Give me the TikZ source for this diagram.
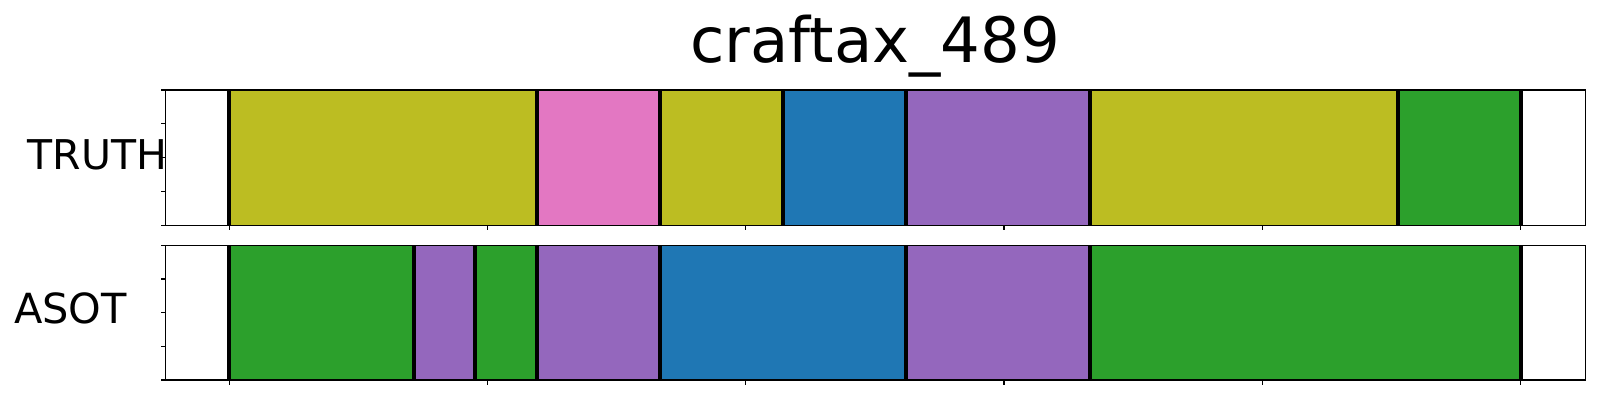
\documentclass[tikz,border=0pt]{standalone}
\usepackage{fontspec}
\setmainfont{DejaVu Sans}
\definecolor{tabolive}{HTML}{BCBD22}
\definecolor{tabpink}{HTML}{E377C2}
\definecolor{tabblue}{HTML}{1F77B4}
\definecolor{tabpurple}{HTML}{9467BD}
\definecolor{tabgreen}{HTML}{2CA02C}
\tikzset{
  frame/.style={line width=1.1},
  cut/.style={line width=4},
  tick/.style={line width=1.1}
}
\begin{document}
\begin{tikzpicture}[x=1pt,y=-1pt]
    \useasboundingbox (0,0) rectangle (1600,400);
    % TRUTH row
    \foreach \a/\b/\c in {229.3/536.7/tabolive, 536.7/659.7/tabpink,
      659.7/782.7/tabolive, 782.7/905.7/tabblue, 905.7/1090.2/tabpurple,
      1090.2/1397.6/tabolive, 1397.6/1520.5/tabgreen}
      \fill[\c] (\a,90) rectangle (\b,225.3);
    \foreach \a in {229.3,536.7,659.7,782.7,905.7,1090.2,1397.6,1520.5}
      \draw[cut] (\a,90) -- (\a,225.3);
    \draw[frame] (165.7,90) rectangle (1585.7,225.3);
    
    % ASOT row
    \foreach \a/\b/\c in {229.3/413.8/tabgreen, 413.8/475.3/tabpurple,
      475.3/536.7/tabgreen, 536.7/659.7/tabpurple, 659.7/905.7/tabblue,
      905.7/1090.2/tabpurple, 1090.2/1520.5/tabgreen}
      \fill[\c] (\a,245.3) rectangle (\b,380);
    \foreach \a in {229.3,413.8,475.3,536.7,659.7,905.7,1090.2,1520.5}
      \draw[cut] (\a,245.3) -- (\a,380);
    \draw[frame] (165.7,245.3) rectangle (1585.7,380);
    
    % ticks
    \foreach \a in {229.3,487.5,745.8,1004.0,1262.2,1520.5} {
      \draw[tick] (\a,225.3) -- (\a,230.2);
      \draw[tick] (\a,380) -- (\a,384.9);
    }
    \foreach \a in {90,123.8,157.6,191.5,225.3,245.3,279.0,312.7,346.3,380}
      \draw[tick] (161,\a) -- (165.7,\a);
    
    \node[anchor=base,inner sep=0,
      font=\fontsize{62.5}{70}\selectfont] (title) at (875,62.3) {craftax\_489};
    \node[anchor=base west,inner sep=0,
      font=\fontsize{41}{45}\selectfont] (truth) at (27.5,169.3) {TRUTH};
    \node[anchor=base west,inner sep=0,
      font=\fontsize{41.5}{45}\selectfont] (asot) at (14,323.3) {ASOT};
  \end{tikzpicture}
\end{document}
